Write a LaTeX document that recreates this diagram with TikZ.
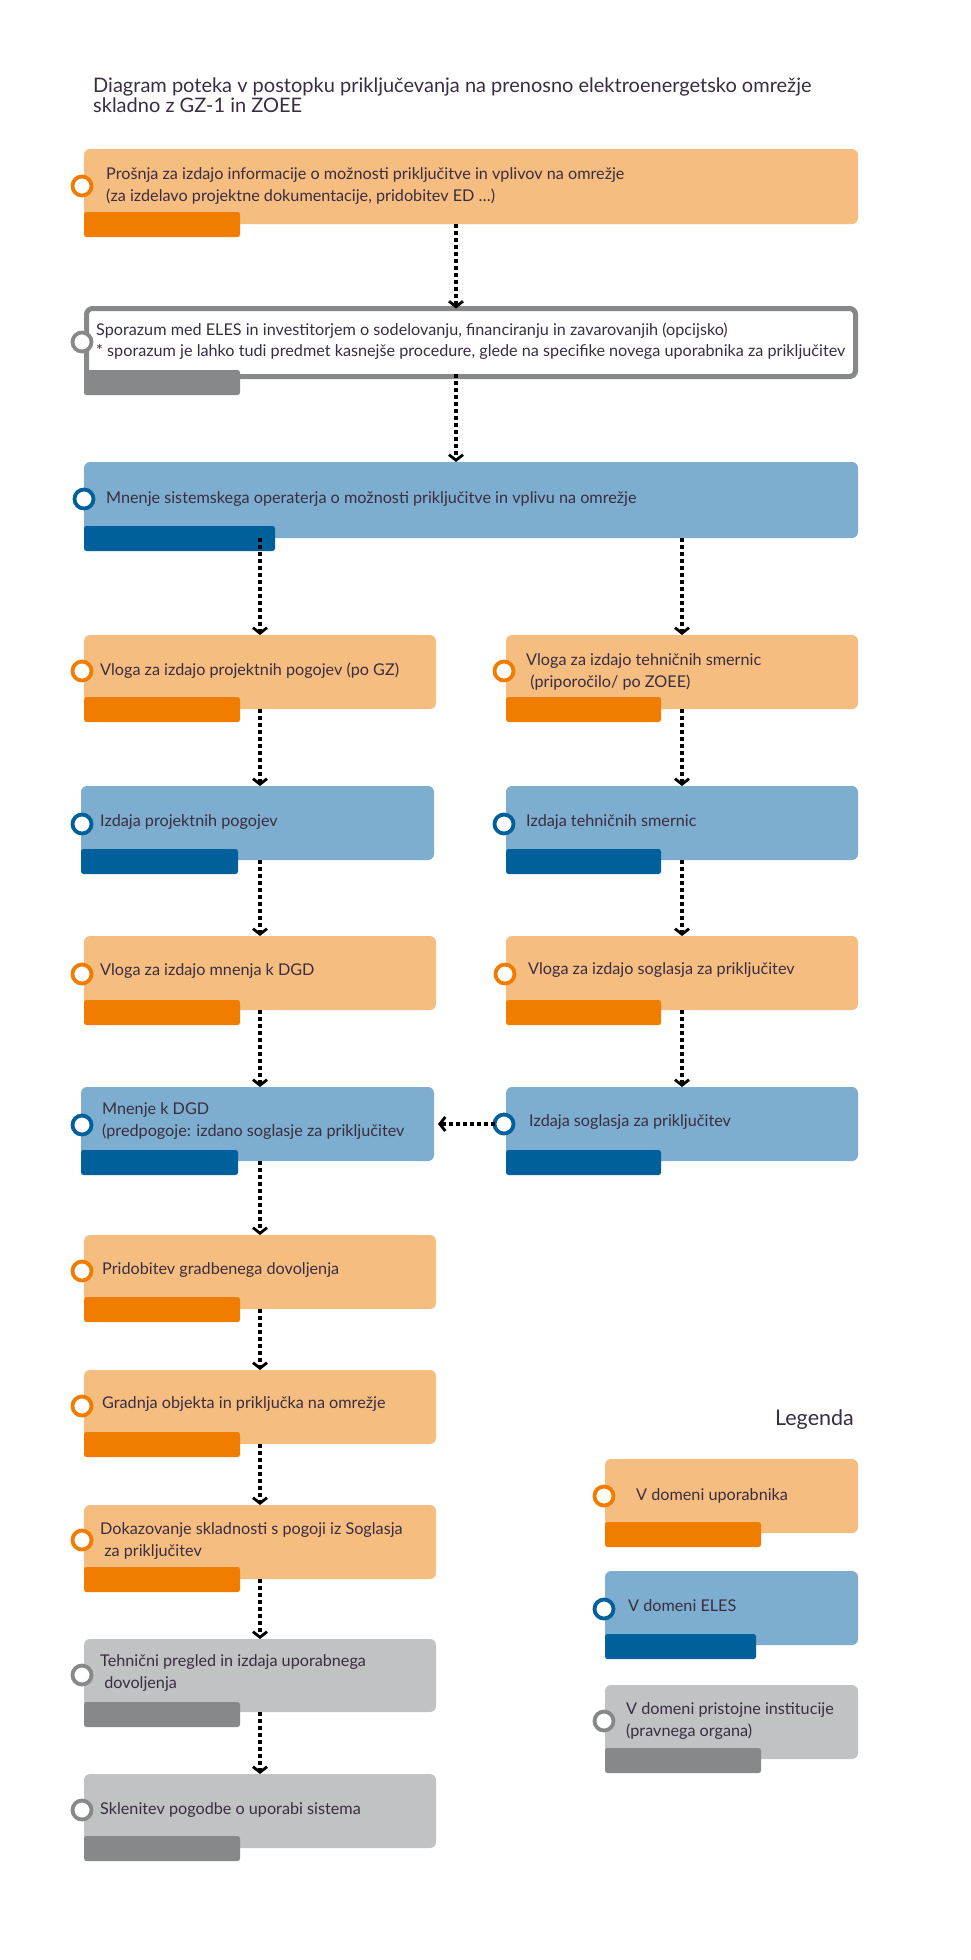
\documentclass[tikz,border=0pt]{standalone}
\usepackage{fontspec}
\setmainfont{Lato}
\usetikzlibrary{arrows.meta,calc}
\definecolor{lor}{HTML}{F6BD80}
\definecolor{dor}{HTML}{F07D00}
\definecolor{lbl}{HTML}{7DAECF}
\definecolor{dbl}{HTML}{00609C}
\definecolor{lgr}{HTML}{C1C2C4}
\definecolor{dgr}{HTML}{878889}
\definecolor{txt}{HTML}{3A2D40}
\tikzset{
  boxnode/.style={rectangle, rounded corners=6pt, inner sep=0pt, outer sep=0pt, anchor=north west},
  barnode/.style={rectangle, rounded corners=2.5pt, inner sep=0pt, outer sep=0pt, anchor=north west, minimum height=25pt},
  ring/.style={circle, fill=white, line width=3.8pt, minimum size=19pt, inner sep=0pt, outer sep=0pt},
  label/.style={anchor=west, inner sep=0pt, align=left, text=txt, font=\fontsize{16.2}{21.5}\selectfont},
  flow/.style={line width=3.6pt, dash pattern=on 3.6pt off 3.4pt, line cap=butt, -{Straight Barb[length=5.5pt,width=14pt,line width=2.8pt]}},
}
\begin{document}
\begin{tikzpicture}[x=1pt,y=-1pt]
\useasboundingbox[fill=white] (0,0) rectangle (971,1960);

\node[anchor=west, inner sep=0pt, align=left, text=txt, font=\fontsize{20}{20}\selectfont] (title) at (93,95)
  {Diagram poteka v postopku priključevanja na prenosno elektroenergetsko omrežje\\skladno z GZ-1 in ZOEE};

% Box A
\node[boxnode, fill=lor, minimum width=774pt, minimum height=75pt] (A) at (84,149) {};
\node[barnode, fill=dor, minimum width=156pt] (Abar) at (84,212) {};
\node[ring, draw=dor] (Acirc) at (82,186) {};
\node[label] (Atxt) at (106,186) {Prošnja za izdajo informacije o možnosti priključitve in vplivov na omrežje\\(za izdelavo projektne dokumentacije, pridobitev ED …)};

% Box B
\node[boxnode, fill=white, draw=dgr, line width=5pt, minimum width=769pt, minimum height=68pt] (B) at (86.5,308.5) {};
\node[barnode, fill=dgr, minimum width=156pt] (Bbar) at (84,370) {};
\node[ring, draw=dgr] (Bcirc) at (82,342) {};
\node[label] (Btxt) at (96,341) {Sporazum med ELES in investitorjem o sodelovanju, financiranju in zavarovanjih (opcijsko)\\* sporazum je lahko tudi predmet kasnejše procedure, glede na specifike novega uporabnika za priključitev};

% Box C
\node[boxnode, fill=lbl, minimum width=774pt, minimum height=76pt] (C) at (84,462) {};
\node[barnode, fill=dbl, minimum width=191pt] (Cbar) at (84,526) {};
\node[ring, draw=dbl] (Ccirc) at (84,499) {};
\node[label] (Ctxt) at (106,499) {Mnenje sistemskega operaterja o možnosti priključitve in vplivu na omrežje};

% Row 1
\node[boxnode, fill=lor, minimum width=352pt, minimum height=74pt] (D1) at (84,635) {};
\node[barnode, fill=dor, minimum width=156pt] (D1bar) at (84,697) {};
\node[ring, draw=dor] (D1circ) at (82,671) {};
\node[label] (D1txt) at (100,671) {Vloga za izdajo projektnih pogojev (po GZ)};

\node[boxnode, fill=lor, minimum width=352pt, minimum height=74pt] (E1) at (506,635) {};
\node[barnode, fill=dor, minimum width=155pt] (E1bar) at (506,697) {};
\node[ring, draw=dor] (E1circ) at (504,671) {};
\node[label] (E1txt) at (526,672) {Vloga za izdajo tehničnih smernic\\\ (priporočilo/ po ZOEE)};

% Row 2
\node[boxnode, fill=lbl, minimum width=353pt, minimum height=74pt] (D2) at (81,786) {};
\node[barnode, fill=dbl, minimum width=157pt] (D2bar) at (81,849) {};
\node[ring, draw=dbl] (D2circ) at (82,824) {};
\node[label] (D2txt) at (100,822) {Izdaja projektnih pogojev};

\node[boxnode, fill=lbl, minimum width=352pt, minimum height=74pt] (E2) at (506,786) {};
\node[barnode, fill=dbl, minimum width=155pt] (E2bar) at (506,849) {};
\node[ring, draw=dbl] (E2circ) at (504,824) {};
\node[label] (E2txt) at (526,822) {Izdaja tehničnih smernic};

% Row 3
\node[boxnode, fill=lor, minimum width=352pt, minimum height=74pt] (D3) at (84,936) {};
\node[barnode, fill=dor, minimum width=156pt] (D3bar) at (84,1000) {};
\node[ring, draw=dor] (D3circ) at (82,974) {};
\node[label] (D3txt) at (100,971) {Vloga za izdajo mnenja k DGD};

\node[boxnode, fill=lor, minimum width=352pt, minimum height=74pt] (E3) at (506,936) {};
\node[barnode, fill=dor, minimum width=155pt] (E3bar) at (506,1000) {};
\node[ring, draw=dor] (E3circ) at (505,974) {};
\node[label] (E3txt) at (528,970) {Vloga za izdajo soglasja za priključitev};

% Row 4
\node[boxnode, fill=lbl, minimum width=353pt, minimum height=74pt] (D4) at (81,1087) {};
\node[barnode, fill=dbl, minimum width=157pt] (D4bar) at (81,1150) {};
\node[ring, draw=dbl] (D4circ) at (82,1125) {};
\node[label] (D4txt) at (102,1121) {Mnenje k DGD\\(predpogoje: izdano soglasje za priključitev};

\node[boxnode, fill=lbl, minimum width=352pt, minimum height=74pt] (E4) at (506,1087) {};
\node[barnode, fill=dbl, minimum width=155pt] (E4bar) at (506,1150) {};
\node[ring, draw=dbl] (E4circ) at (504,1124) {};
\node[label] (E4txt) at (529,1122) {Izdaja soglasja za priključitev};

% Lower left column
\node[boxnode, fill=lor, minimum width=352pt, minimum height=74pt] (D5) at (84,1235) {};
\node[barnode, fill=dor, minimum width=156pt] (D5bar) at (84,1297) {};
\node[ring, draw=dor] (D5circ) at (82,1271) {};
\node[label] (D5txt) at (102,1270) {Pridobitev gradbenega dovoljenja};

\node[boxnode, fill=lor, minimum width=352pt, minimum height=74pt] (D6) at (84,1370) {};
\node[barnode, fill=dor, minimum width=156pt] (D6bar) at (84,1432) {};
\node[ring, draw=dor] (D6circ) at (82,1406) {};
\node[label] (D6txt) at (102,1404) {Gradnja objekta in priključka na omrežje};

\node[boxnode, fill=lor, minimum width=352pt, minimum height=74pt] (D7) at (84,1505) {};
\node[barnode, fill=dor, minimum width=156pt] (D7bar) at (84,1567) {};
\node[ring, draw=dor] (D7circ) at (82,1540) {};
\node[label] (D7txt) at (100,1541) {Dokazovanje skladnosti s pogoji iz Soglasja\\\ za priključitev};

\node[boxnode, fill=lgr, minimum width=352pt, minimum height=73pt] (D8) at (84,1639) {};
\node[barnode, fill=dgr, minimum width=156pt] (D8bar) at (84,1702) {};
\node[ring, draw=dgr] (D8circ) at (82,1675) {};
\node[label] (D8txt) at (100,1673) {Tehnični pregled in izdaja uporabnega\\\ dovoljenja};

\node[boxnode, fill=lgr, minimum width=352pt, minimum height=74pt] (D9) at (84,1774) {};
\node[barnode, fill=dgr, minimum width=156pt] (D9bar) at (84,1836) {};
\node[ring, draw=dgr] (D9circ) at (82,1810) {};
\node[label] (D9txt) at (100,1810) {Sklenitev pogodbe o uporabi sistema};

% Legend
\node[anchor=east, inner sep=0pt, text=txt, font=\fontsize{21.5}{22}\selectfont] (leg) at (854,1420) {Legenda};

\node[boxnode, fill=lor, minimum width=253pt, minimum height=74pt] (L1) at (605,1459) {};
\node[barnode, fill=dor, minimum width=156pt] (L1bar) at (605,1522) {};
\node[ring, draw=dor] (L1circ) at (604,1496) {};
\node[label] (L1txt) at (636,1496) {V domeni uporabnika};

\node[boxnode, fill=lbl, minimum width=253pt, minimum height=74pt] (L2) at (605,1571) {};
\node[barnode, fill=dbl, minimum width=151pt] (L2bar) at (605,1634) {};
\node[ring, draw=dbl] (L2circ) at (604,1609) {};
\node[label] (L2txt) at (628,1606) {V domeni ELES};

\node[boxnode, fill=lgr, minimum width=253pt, minimum height=74pt] (L3) at (605,1685) {};
\node[barnode, fill=dgr, minimum width=156pt] (L3bar) at (605,1748) {};
\node[ring, draw=dgr] (L3circ) at (604,1721) {};
\node[label] (L3txt) at (626,1721) {V domeni pristojne institucije\\(pravnega organa)};

% Connectors
\coordinate (xm) at (456,0);
\draw[flow] (A.south -| xm) -- (B.north -| xm);
\draw[flow] ([yshift=2.5pt]B.south -| xm) -- (C.north -| xm);
\draw[flow] (C.south -| D1.north) -- (D1.north);
\draw[flow] (C.south -| E1.north) -- (E1.north);
\draw[flow] (D1.south) -- (D1.south |- D2.north);
\draw[flow] (E1.south) -- (E2.north);
\draw[flow] (D2.south -| D1.south) -- (D3.north);
\draw[flow] (E2.south) -- (E3.north);
\draw[flow] (D3.south) -- (D3.south |- D4.north);
\draw[flow] (E3.south) -- (E4.north);
\draw[flow, shorten >=4pt] (E4circ.west) -- (D4.east |- E4circ.west);
\draw[flow] (D4.south -| D5.north) -- (D5.north);
\draw[flow] (D5.south) -- (D6.north);
\draw[flow] (D6.south) -- (D7.north);
\draw[flow] (D7.south) -- (D8.north);
\draw[flow] (D8.south) -- (D9.north);
\end{tikzpicture}
\end{document}
